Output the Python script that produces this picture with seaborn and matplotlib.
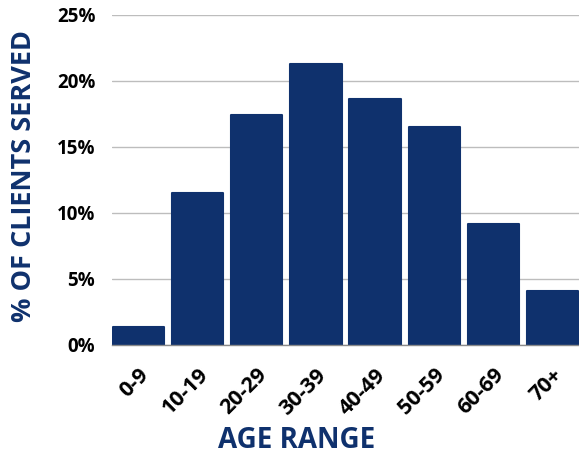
import matplotlib
matplotlib.use("Agg")
import matplotlib.pyplot as plt
import seaborn as sns
import pandas as pd

age_ranges = ["0-9", "10-19", "20-29", "30-39", "40-49", "50-59", "60-69", "70+"]
pct_served = [1.4, 11.5, 17.4, 21.3, 18.6, 16.5, 9.2, 4.1]
y_ticks = [0, 5, 10, 15, 20, 25]

navy = "#0f316d"

sns.set_theme(style="white")
plt.rcParams["font.family"] = ["Open Sans", "DejaVu Sans"]

df = pd.DataFrame({"age": age_ranges, "pct": pct_served})

W, H = 579, 455
fig = plt.figure(figsize=(W / 100, H / 100), dpi=100)
ax = fig.add_axes([112 / W, 1 - 345 / H, 467 / W, 330 / H])

sns.barplot(data=df, x="age", y="pct", color=navy, width=0.865, saturation=1,
            ax=ax, zorder=3)
for p in ax.patches:
    p.set_edgecolor(navy)
    p.set_linewidth(1.5)
    p.set_joinstyle("round")

ax.set_xlim(-0.45, 7.45)
ax.set_ylim(0, 25)
ax.set_yticks(y_ticks)
ax.set_yticklabels([f"{t}%" for t in y_ticks], fontsize=13.5, fontweight="bold",
                   color="black")
ax.tick_params(axis="y", length=0, pad=12)
ax.yaxis.grid(True, color="#bdbdbd", linewidth=1)
ax.set_axisbelow(True)

ax.set_xticks(range(len(age_ranges)))
ax.set_xticklabels(age_ranges, rotation=45, ha="right", rotation_mode="anchor",
                   fontsize=15.5, fontweight="bold", color="black")
ax.tick_params(axis="x", length=0, pad=14)

for side in ["left", "right", "top"]:
    ax.spines[side].set_visible(False)
ax.spines["bottom"].set_color("#8a8a8a")
ax.spines["bottom"].set_linewidth(1)
ax.spines["bottom"].set_zorder(4)

ax.set_xlabel("")
ax.set_ylabel("")
fig.text(297 / W, 1 - 448 / H, "AGE RANGE", fontsize=20, fontweight="bold",
         color=navy, ha="center", va="baseline")
fig.text(24 / W, 1 - 176 / H, "% OF CLIENTS SERVED", fontsize=19.5,
         fontweight="bold", color=navy, ha="center", va="center", rotation=90)

fig.savefig("out.png", dpi=100)
